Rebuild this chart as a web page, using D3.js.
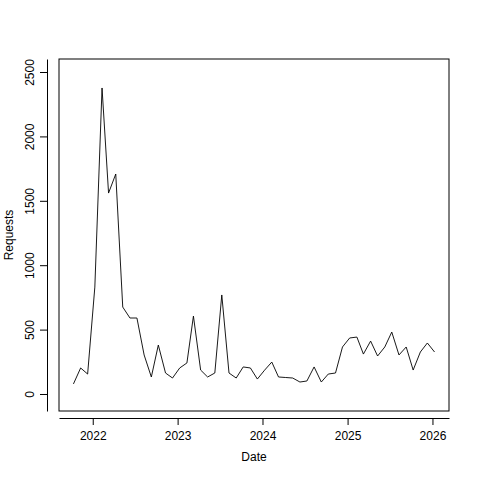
<!DOCTYPE html><html><head><script src="https://cdn.jsdelivr.net/npm/d3@7"></script>
<style>body{margin:0;background:#fff}text{font-family:"Liberation Sans",Arial,sans-serif;font-size:12px}</style></head><body>
<script>
const startYear=2021, startMonth=9; // Oct 2021 (0-based month)
const requests=[78,202,155,830,2376,1560,1708,675,590,590,303,132,380,163,124,202,241,605,186,132,163,769,163,124,210,202,116,185,248,132,128,124,93,101,210,93,155,163,365,435,442,310,411,295,365,481,303,365,186,326,396,326];
const yTicks=[0,500,1000,1500,2000,2500];
const xTicks=[2022,2023,2024,2025,2026];
const dates=requests.map((v,i)=>new Date(startYear,startMonth+i,10));
const W=480,H=480,L=59,R=449,T=59,B=411;
const svg=d3.select("body").append("svg").attr("width",W).attr("height",H);
const d0=dates[0],d1=dates[dates.length-1],span=d1-d0;
const x=d3.scaleTime().domain([new Date(+d0-span*0.04),new Date(+d1+span*0.04)]).range([L,R]);
const y=d3.scaleLinear().domain([-132,2601]).range([B,T]);
svg.append("rect").attr("x",L).attr("y",T).attr("width",R-L).attr("height",B-T).attr("fill","none").attr("stroke","#000");
svg.append("path").datum(requests).attr("fill","none").attr("stroke","#000").attr("stroke-width",0.9)
 .attr("d",d3.line().x((d,i)=>x(dates[i])).y(d=>y(d)));
const ya=svg.append("g").attr("transform",`translate(${L-12},0)`);
ya.call(d3.axisLeft(y).tickValues(yTicks).tickFormat(d3.format("d")).tickSize(7).tickSizeOuter(0));
ya.selectAll("text").attr("transform","rotate(-90)").attr("x",0).attr("dy","0").attr("y",-13).attr("text-anchor","middle").attr("fill","#000");
ya.select(".domain").attr("stroke","#000");
const xa=svg.append("g").attr("transform",`translate(0,${B+7})`);
xa.call(d3.axisBottom(x).tickValues(xTicks.map(yr=>new Date(yr,0,1))).tickFormat(d3.timeFormat("%Y")).tickSize(7).tickPadding(6).tickSizeOuter(0));
xa.selectAll("text").attr("fill","#000");
xa.select(".domain").attr("stroke","#000");
svg.selectAll(".tick text").style("font-size","12px").style("font-family","Liberation Sans, Arial");
svg.append("text").attr("x",(L+R)/2).attr("y",461).attr("text-anchor","middle").text("Date");
svg.append("text").attr("transform",`translate(13,${(T+B)/2}) rotate(-90)`).attr("text-anchor","middle").text("Requests");
</script></body></html>
